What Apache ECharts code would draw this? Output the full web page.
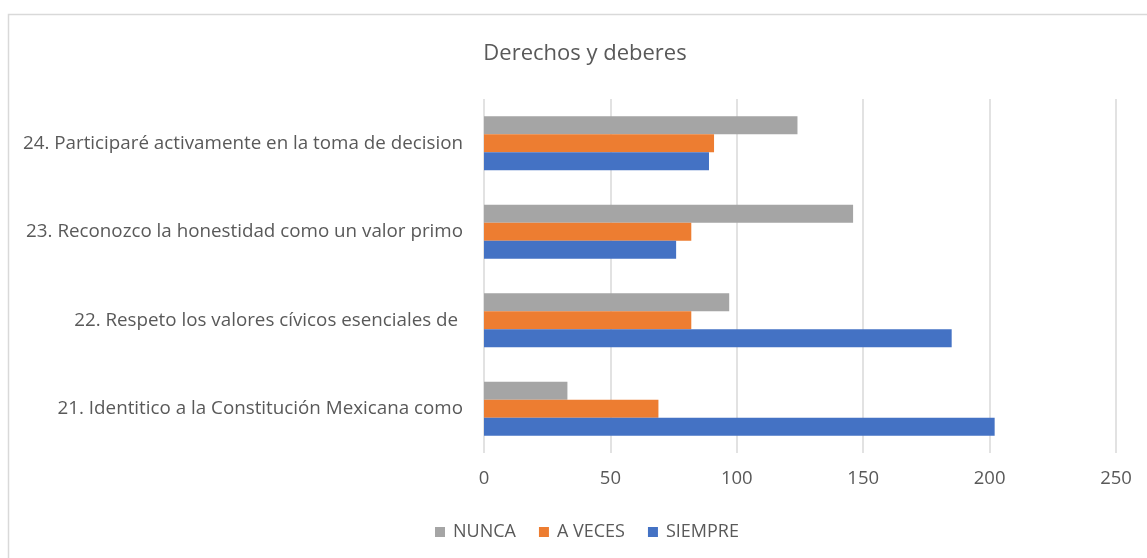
<!DOCTYPE html>
<html>
<head>
<meta charset="utf-8">
<script src="https://cdn.jsdelivr.net/npm/echarts@6/dist/echarts.min.js"></script>
<style>
  html, body { margin: 0; padding: 0; background: #fff; }
  #chart { width: 1147px; height: 558px; }
</style>
</head>
<body>
<div id="chart"></div>
<script>
// datos -----------------------------------
var categorias = [
    '21. Identitico a la Constitución Mexicana como',
    '22. Respeto los valores cívicos esenciales de ',
    '23. Reconozco la honestidad como un valor primo',
    '24. Participaré activamente en la toma de decision'
];
var siempre = [202, 185, 76, 89];
var aVeces = [69, 82, 82, 91];
var nunca = [33, 97, 146, 124];
var leyenda = ['NUNCA', 'A VECES', 'SIEMPRE'];

var fuente = 'Open Sans';
var gris = '#595959';

var myChart = echarts.init(document.getElementById('chart'));

var option = {
    animation: false,
    title: {
        text: 'Derechos y deberes',
        left: 580,
        textAlign: 'center',
        top: 38,
        textStyle: {color: gris, fontSize: 22, fontWeight: 'normal', fontFamily: fuente}
    },
    graphic: [{
        type: 'rect',
        shape: {x: 8.5, y: 14.5, width: 1150, height: 560},
        style: {fill: 'none', stroke: '#d9d9d9', lineWidth: 1.5},
        silent: true
    }],
    legend: {
        data: leyenda,
        left: 430,
        top: 518,
        itemWidth: 10,
        itemHeight: 10,
        itemGap: 23,
        icon: 'rect',
        textStyle: {color: gris, fontSize: 18, fontFamily: fuente, padding: [0, 0, 0, 3]}
    },
    grid: {left: 484, right: 31, top: 99, bottom: 105, containLabel: false},
    xAxis: {
        type: 'value',
        min: 0,
        max: 250,
        interval: 50,
        axisLine: {show: false},
        axisTick: {show: false},
        axisLabel: {color: gris, fontSize: 18.5, fontFamily: fuente, margin: 16},
        splitLine: {lineStyle: {color: '#d9d9d9', width: 1.5}}
    },
    yAxis: {
        type: 'category',
        data: categorias,
        axisLine: {show: false},
        axisTick: {show: false},
        axisLabel: {color: gris, fontSize: 18.8, fontFamily: fuente, margin: 21}
    },
    // ECharts pone la primera serie arriba en barras horizontales
    series: [
        {name: 'NUNCA', type: 'bar', data: nunca, barGap: '0%', barCategoryGap: '39%',
            itemStyle: {color: '#a5a5a5'}},
        {name: 'A VECES', type: 'bar', data: aVeces, barGap: '0%', barCategoryGap: '39%',
            itemStyle: {color: '#ed7d31'}},
        {name: 'SIEMPRE', type: 'bar', data: siempre, barGap: '0%', barCategoryGap: '39%',
            itemStyle: {color: '#4472c4'}}
    ]
};

myChart.setOption(option);
</script>
</body>
</html>
